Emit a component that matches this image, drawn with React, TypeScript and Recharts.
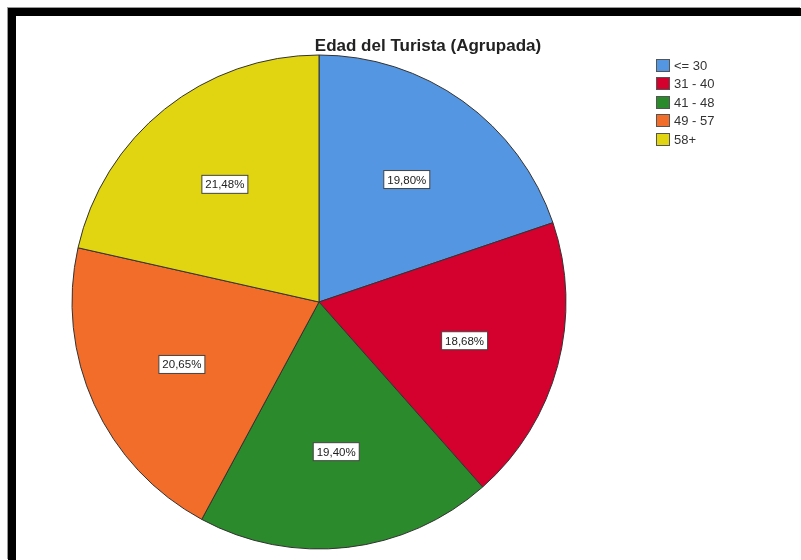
import { PieChart, Pie, Cell } from 'recharts';

const categories = ['<= 30', '31 - 40', '41 - 48', '49 - 57', '58+'];
const percents = [19.8, 18.68, 19.4, 20.65, 21.48];
const COLORS = ['#5596e3', '#d4002d', '#2b8a2b', '#f26c2a', '#e1d512'];

const data = categories.map((name, i) => ({ name, value: percents[i] }));

const RAD = Math.PI / 180;

// boxed percentage label at ~60% of the radius
function renderLabel(props: any) {
  const { cx, cy, midAngle, outerRadius, value } = props;
  const r = outerRadius * 0.61;
  const x = cx + r * Math.cos(-midAngle * RAD);
  const y = cy + r * Math.sin(-midAngle * RAD);
  const text = value.toFixed(2).replace('.', ',') + '%';
  const w = 46;
  const h = 18;
  return (
    <g>
      <rect x={x - w / 2} y={y - h / 2} width={w} height={h} fill="#fff" stroke="#444" strokeWidth={1} />
      <text x={x} y={y + 4} textAnchor="middle" fontSize={11.5} fill="#222" fontFamily="Liberation Sans, Arial, sans-serif">
        {text}
      </text>
    </g>
  );
}

function LegendBox() {
  return (
    <div
      style={{
        position: 'absolute',
        left: 640,
        top: 40,
        fontFamily: 'Liberation Sans, Arial, sans-serif',
        fontSize: 13,
        color: '#333',
      }}
    >
      {categories.map((c, i) => (
        <div key={c} style={{ display: 'flex', alignItems: 'center', height: 18.5 }}>
          <span
            style={{
              display: 'inline-block',
              width: 12,
              height: 11,
              background: COLORS[i],
              border: '1px solid #555',
              marginRight: 4,
            }}
          />
          <span>{c}</span>
        </div>
      ))}
    </div>
  );
}

export default function App() {
  return (
    <div
      style={{
        position: 'fixed',
        top: 8,
        left: 8,
        width: 793,
        height: 552,
        borderTop: '8px solid #000',
        borderLeft: '8px solid #000',
        boxShadow: '-1px -1px 0 #999',
        boxSizing: 'border-box',
        background: '#fff',
      }}
    >
      <PieChart width={785} height={544} margin={{ top: 0, right: 0, bottom: 0, left: 0 }}>
        <text
          x={412}
          y={35}
          textAnchor="middle"
          fontSize={17}
          fontWeight="bold"
          fill="#222"
          fontFamily="Liberation Sans, Arial, sans-serif"
        >
          Edad del Turista (Agrupada)
        </text>
        <Pie
          data={data}
          dataKey="value"
          nameKey="name"
          cx={303}
          cy={286}
          outerRadius={247}
          startAngle={90}
          endAngle={-270}
          stroke="#333"
          strokeWidth={1}
          label={renderLabel}
          labelLine={false}
          isAnimationActive={false}
        >
          {data.map((_, i) => (
            <Cell key={`cell-${i}`} fill={COLORS[i]} />
          ))}
        </Pie>
      </PieChart>
      <LegendBox />
    </div>
  );
}
